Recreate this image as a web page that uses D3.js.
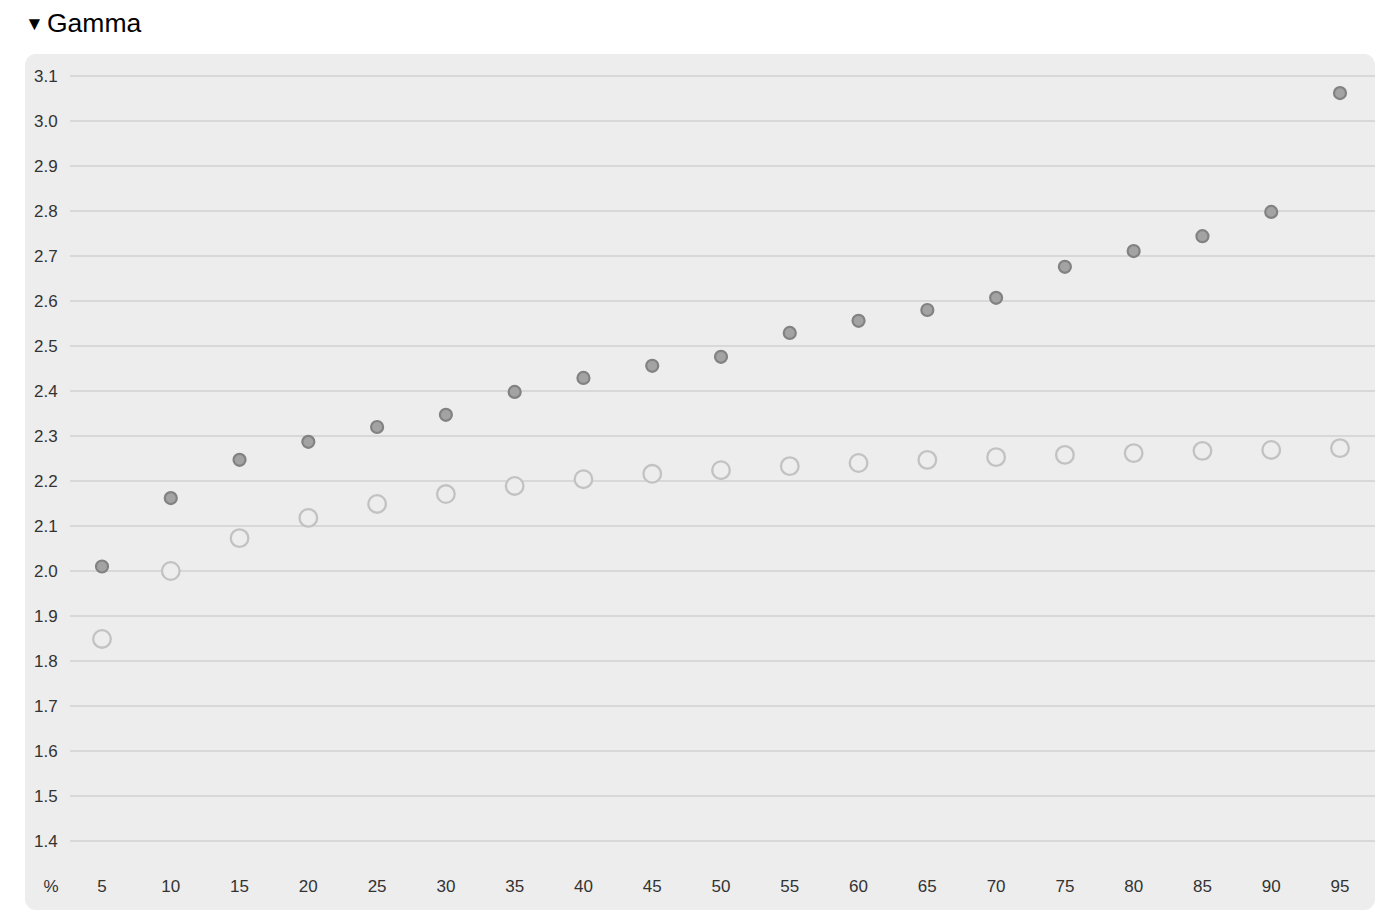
<!DOCTYPE html>
<html>
<head>
<meta charset="utf-8">
<script src="https://cdn.jsdelivr.net/npm/d3@7"></script>
<style>
  body { margin: 0; background: #fff; font-family: "Liberation Sans", Arial, sans-serif; }
</style>
</head>
<body>
<div id="chart"></div>
<script>
// percent positions along the x axis
var percents = [5, 10, 15, 20, 25, 30, 35, 40, 45, 50, 55, 60, 65, 70, 75, 80, 85, 90, 95];
// filled dots (upper series)
var gammaHigh = [2.01, 2.162, 2.247, 2.287, 2.32, 2.347, 2.398, 2.429, 2.456, 2.476,
                 2.529, 2.556, 2.58, 2.607, 2.676, 2.711, 2.744, 2.798, 3.062];
// hollow circles (lower series)
var gammaLow = [1.849, 2.0, 2.073, 2.118, 2.149, 2.171, 2.189, 2.204, 2.216, 2.224,
                2.233, 2.24, 2.247, 2.253, 2.258, 2.262, 2.267, 2.269, 2.273];
var yTicks = [1.4, 1.5, 1.6, 1.7, 1.8, 1.9, 2.0, 2.1, 2.2, 2.3, 2.4, 2.5, 2.6, 2.7, 2.8, 2.9, 3.0, 3.1];

var W = 1388, H = 922;
var panel = {x: 25, y: 54, w: 1350, h: 856};

var svg = d3.select("#chart").append("svg")
  .attr("width", W).attr("height", H)
  .style("font-family", '"Liberation Sans", Arial, sans-serif');

// title: small triangle + label
svg.append("text")
  .attr("x", 25).attr("y", 30)
  .attr("font-size", 19).attr("fill", "#000")
  .text("\u25BC");
svg.append("text")
  .attr("x", 47).attr("y", 32)
  .attr("font-size", 26.5).attr("fill", "#000")
  .text("Gamma");

svg.append("rect")
  .attr("x", panel.x).attr("y", panel.y)
  .attr("width", panel.w).attr("height", panel.h)
  .attr("rx", 11).attr("fill", "#ededed");

var x = d3.scaleLinear().domain([5, 95]).range([102, 1340]);
var y = d3.scaleLinear().domain([1.4, 3.1]).range([841, 76]);

// gridlines
svg.append("g").selectAll("line")
  .data(yTicks).enter().append("line")
  .attr("x1", 70).attr("x2", panel.x + panel.w)
  .attr("y1", d => y(d)).attr("y2", d => y(d))
  .attr("stroke", "#c4c4c4").attr("stroke-width", 1.2);

// y labels
svg.append("g").selectAll("text")
  .data(yTicks).enter().append("text")
  .attr("x", 34).attr("y", d => y(d) + 6)
  .attr("font-size", 17).attr("fill", "#333")
  .text(d => d3.format(".1f")(d));

// x labels
svg.append("text")
  .attr("x", 51).attr("y", 892)
  .attr("text-anchor", "middle")
  .attr("font-size", 17).attr("fill", "#333")
  .text("%");
svg.append("g").selectAll("text")
  .data(percents).enter().append("text")
  .attr("x", d => x(d)).attr("y", 892)
  .attr("text-anchor", "middle")
  .attr("font-size", 17).attr("fill", "#333")
  .text(d => d);

// hollow series
svg.append("g").selectAll("circle")
  .data(percents).enter().append("circle")
  .attr("cx", d => x(d))
  .attr("cy", (d, i) => y(gammaLow[i]))
  .attr("r", 8.8)
  .attr("fill", "#ededed")
  .attr("stroke", "#c2c2c2")
  .attr("stroke-width", 2.3);

// filled series
svg.append("g").selectAll("circle")
  .data(percents).enter().append("circle")
  .attr("cx", d => x(d))
  .attr("cy", (d, i) => y(gammaHigh[i]))
  .attr("r", 6)
  .attr("fill", "#a3a3a3")
  .attr("stroke", "#828282")
  .attr("stroke-width", 2.2);
</script>
</body>
</html>
